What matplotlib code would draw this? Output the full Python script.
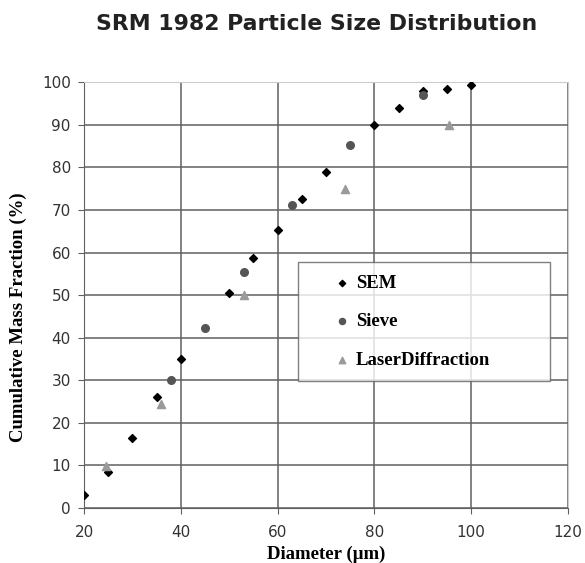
import matplotlib.pyplot as plt

# Data
sem_d = [20, 25, 30, 35, 40, 50, 55, 60, 65, 70, 80, 85, 90, 95, 100]
sem_f = [3, 8.5, 16.5, 26, 35, 50.5, 58.7, 65.3, 72.5, 79, 90, 94, 98, 98.5, 99.3]

sieve_d = [38, 45, 53, 63, 75, 90]
sieve_f = [30, 42.3, 55.4, 71.2, 85.3, 97]

laser_d = [24.5, 36, 53, 74, 95.5]
laser_f = [9.8, 24.5, 50, 75, 90]

fig = plt.figure(figsize=(5.85, 5.63), dpi=100)
ax = fig.add_axes([0.1436, 0.0977, 0.8274, 0.7563])

ax.scatter(sem_d, sem_f, marker='D', s=16, color='black', label='SEM', zorder=3)
ax.scatter(sieve_d, sieve_f, marker='o', s=30, color='#555555', label='Sieve', zorder=3)
ax.scatter(laser_d, laser_f, marker='^', s=34, color='#9a9a9a', label='LaserDiffraction', zorder=3)

ax.set_xlim(20, 120)
ax.set_ylim(0, 100)
ax.set_xticks(range(20, 121, 20))
ax.set_yticks(range(0, 101, 10))
ax.grid(True, color='#606060', linewidth=1.1)
ax.set_axisbelow(True)
for s in ['top', 'right']:
    ax.spines[s].set_color('#cccccc')
for s in ['left', 'bottom']:
    ax.spines[s].set_color('#606060')
ax.tick_params(labelsize=11, length=4, color='#606060', labelcolor='#333333')
ax.tick_params(axis='x', pad=8)
ax.tick_params(axis='y', pad=5.5)

ax.set_xlabel('Diameter (µm)', family='Liberation Serif', fontweight='bold', fontsize=13.5,
              va='center')
ax.xaxis.set_label_coords(0.5, -0.11)
ax.set_ylabel('Cumulative Mass Fraction (%)', family='Liberation Serif', fontweight='bold',
              fontsize=13.5, va='center')
ax.yaxis.set_label_coords(-0.136, 0.448)
fig.text(0.542, 0.958, 'SRM 1982 Particle Size Distribution', ha='center', va='center',
         fontsize=15.8, fontweight='bold', family='DejaVu Sans', color='#222222')

leg = ax.legend(loc='upper left', bbox_to_anchor=(0.442, 0.293, 0.521, 0.284), mode='expand',
                borderaxespad=0,
                prop={'family': 'Liberation Serif', 'weight': 'bold', 'size': 13.5},
                frameon=True, fancybox=False, edgecolor='#606060', labelspacing=1.15,
                borderpad=0.65, handlelength=3.45, handletextpad=-1.0, markerscale=0.8)
leg.get_frame().set_linewidth(1)

fig.savefig('out.png')
